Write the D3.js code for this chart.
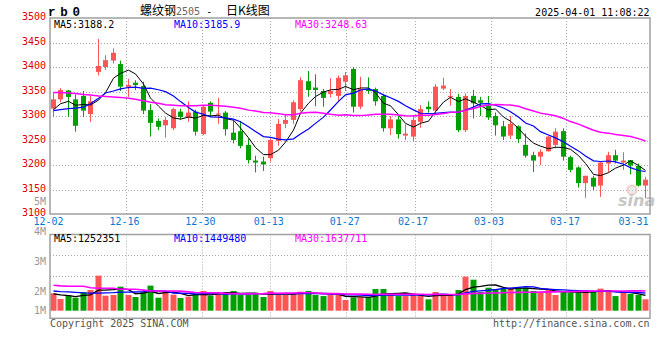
<!DOCTYPE html>
<html lang="zh">
<head>
<meta charset="UTF-8">
<title>螺纹钢2505 日K线图</title>
<style>
  body { margin: 0; padding: 0; background: #fff; }
  svg text { font-family: "DejaVu Sans Mono", monospace; font-size: 10px; }
</style>
</head>
<body>
<svg width="660" height="360"></svg>
<script src="https://cdn.jsdelivr.net/npm/d3@7/dist/d3.min.js"></script>
<script>
// trading days, 2024-12-02 .. 2025-04-01
const dates = [
  "12-02","12-03","12-04","12-05","12-06","12-09","12-10","12-11","12-12","12-13",
  "12-16","12-17","12-18","12-19","12-20","12-23","12-24","12-25","12-26","12-27",
  "12-30","12-31","01-02","01-03","01-06","01-07","01-08","01-09","01-10","01-13",
  "01-14","01-15","01-16","01-17","01-20","01-21","01-22","01-23","01-24","01-27",
  "02-05","02-06","02-07","02-10","02-11","02-12","02-13","02-14","02-17","02-18",
  "02-19","02-20","02-21","02-24","02-25","02-26","02-27","02-28","03-03","03-04",
  "03-05","03-06","03-07","03-10","03-11","03-12","03-13","03-14","03-17","03-18",
  "03-19","03-20","03-21","03-24","03-25","03-26","03-27","03-28","03-31","04-01"
];
const open = [
  3315,3334,3352,3334,3341,3304,3390,3400,3413,3406,
  3359,3368,3361,3312,3290,3281,3275,3309,3298,3309,
  3263,3327,3303,3307,3266,3269,3241,3209,3207,3214,
  3249,3284,3292,3314,3371,3358,3351,3345,3341,3370,
  3396,3319,3355,3355,3341,3275,3293,3260,3258,3288,
  3319,3311,3356,3339,3339,3271,3341,3332,3321,3300,
  3279,3260,3279,3241,3220,3217,3228,3241,3269,3216,
  3195,3163,3174,3158,3203,3220,3205,3210,3198,3158
];
const high = [
  3348,3357,3353,3344,3351,3341,3457,3424,3438,3413,
  3376,3373,3370,3324,3295,3298,3317,3315,3330,3313,
  3322,3330,3337,3310,3290,3290,3254,3219,3217,3254,
  3294,3304,3332,3379,3392,3385,3355,3377,3383,3390,
  3400,3380,3379,3358,3345,3300,3300,3283,3302,3322,
  3330,3365,3378,3355,3345,3346,3353,3339,3341,3307,
  3290,3300,3281,3264,3227,3232,3259,3275,3275,3219,
  3197,3178,3178,3207,3227,3231,3226,3210,3203,3176
];
const low = [
  3298,3328,3298,3268,3298,3288,3383,3394,3407,3351,
  3339,3353,3304,3258,3271,3256,3271,3293,3288,3260,
  3261,3298,3284,3260,3244,3234,3203,3185,3188,3207,
  3239,3275,3284,3309,3339,3320,3319,3338,3328,3351,
  3307,3314,3345,3321,3268,3261,3254,3251,3248,3276,
  3307,3302,3353,3321,3267,3267,3295,3300,3292,3260,
  3251,3253,3245,3215,3186,3200,3227,3234,3209,3185,
  3154,3133,3149,3135,3185,3203,3190,3181,3156,3132
];
const close = [
  3334,3353,3339,3280,3311,3330,3402,3414,3429,3360,
  3363,3363,3311,3286,3278,3292,3314,3298,3307,3268,
  3319,3309,3305,3273,3251,3239,3210,3205,3201,3251,
  3284,3292,3328,3373,3353,3353,3337,3351,3378,3383,
  3319,3355,3351,3330,3275,3293,3263,3264,3292,3314,
  3314,3360,3362,3341,3271,3341,3326,3327,3297,3281,
  3258,3284,3253,3219,3209,3227,3258,3268,3217,3190,
  3163,3178,3156,3205,3220,3209,3209,3199,3158,3170
];
const volume = [
  1440000, 970000,1277000,1075000,1546000,1709000,2899000,1238000,1296000,1987000,
  1296000,1133000,1546000,2074000,1075000,1632000,1325000,1046000,1162000,1440000,
  1632000,1238000,1459000,1546000,1632000,1296000,1296000,1459000,1133000,1632000,
  1296000,1296000,1459000,1574000,1632000,1296000,1210000,1296000,1296000, 883000,
  1104000,1104000,1104000,1795000,1795000,1296000,1210000,1210000,1382000,1210000,
   941000,1546000,1296000,1382000,1709000,2813000,2563000,1546000,1901000,1795000,
  1795000,1901000,1901000,1901000,1632000,1546000,1824000,1296000,1546000,1459000,
  1546000,1709000,1546000,1824000,1632000,1210000,1459000,1382000,1296000, 941000
];

// moving-average values before each window is full
const ma5Head = [3313, 3325, 3330, 3322];
const ma10Head = [3311, 3313, 3315, 3316, 3318, 3325, 3336, 3347, 3351];
const ma30Head = [
  3348,3348,3347,3346,3344,3343,3341,3340,3339,3338,
  3336,3334,3331,3328,3326,3323,3322,3321,3321,3321,
  3322,3322,3321,3320,3318,3316,3312,3310,3307
];
const vma5Head = [1400000, 1300000, 1240000, 1160000];
const vma10Head = [1630000, 1580000, 1560000, 1520000, 1480000, 1460000, 1460000, 1480000, 1500000];
const vma30Head = [
  2100000,2050000,2020000,2020000,2020000,1900000,1860000,1850000,1850000,1780000,
  1770000,1770000,1700000,1640000,1630000,1630000,1630000,1620000,1560000,1500000,
  1490000,1490000,1470000,1430000,1410000,1400000,1400000,1400000,1410000
];

const tickDates = ["12-02","12-16","12-30","01-13","01-27","02-17","03-03","03-17","03-31"];
const priceTicks = [3500, 3450, 3400, 3350, 3300, 3250, 3200, 3150, 3100];
const volTicks = [5, 4, 3, 2, 1];
const priceLegend = ["MA5:3188.2", "MA10:3185.9", "MA30:3248.63"];
const volLegend = ["MA5:1252351", "MA10:1449480", "MA30:1637711"];
const maColors = ["#000000", "#0000ff", "#ff00ff"];

const UP = "#ff5555", DOWN = "#00a000";
const box = {left: 50, right: 650, top: 18, bottom: 214};
const vbox = {top: 234.5, bottom: 318.3, base: 310.7};

const svg = d3.select("svg");
svg.append("rect").attr("width", 660).attr("height", 360).attr("fill", "#fff");

const x = d3.scaleBand().domain(dates).range([49, 649]);
const xc = d => Math.round(x(d) + x.bandwidth() / 2);
const xGrid = d3.scaleLinear().domain([0, dates.length - 1]).range([box.left, box.right]);
const y = d3.scaleLinear().domain([3100, 3500]).range([box.bottom, box.top]);
const yv = d3.scaleLinear().domain([0, 6.3e6]).range([vbox.base, vbox.top]);
// sina puts the volume labels on its own odd spacing
const yvLabel = d3.scaleLinear().domain([2, 5]).range([291, 201.5]);

function movingAvg(values, n, head) {
  return values.map((v, i) => i < n - 1 ? head[i] : d3.mean(values.slice(i - n + 1, i + 1)));
}
const priceMA = [movingAvg(close, 5, ma5Head), movingAvg(close, 10, ma10Head), movingAvg(close, 30, ma30Head)];
const volMA = [movingAvg(volume, 5, vma5Head), movingAvg(volume, 10, vma10Head), movingAvg(volume, 30, vma30Head)];

const gridColor = "#aaa";
const tickIdx = tickDates.map(d => dates.indexOf(d));

// ---- grid lines
const grid = svg.append("g").attr("stroke", gridColor).attr("stroke-dasharray", "1,2").attr("stroke-width", 1);
priceTicks.slice(1, -1).forEach(v => {
  const yy = Math.round(y(v)) + 0.5;
  grid.append("line").attr("x1", box.left).attr("x2", box.right).attr("y1", yy).attr("y2", yy);
});
[1, 2].forEach(k => {
  const yy = Math.round(vbox.top + k * (vbox.bottom - vbox.top) / 4) + 0.5;
  grid.append("line").attr("x1", box.left).attr("x2", box.right).attr("y1", yy).attr("y2", yy);
});
tickIdx.slice(1, -1).forEach(i => {
  const xx = Math.round(xGrid(i)) + 0.5;
  grid.append("line").attr("x1", xx).attr("x2", xx).attr("y1", box.top).attr("y2", box.bottom);
  grid.append("line").attr("x1", xx).attr("x2", xx).attr("y1", vbox.top).attr("y2", vbox.bottom);
});

// ---- sina watermark
const wm = svg.append("g").attr("opacity", 0.55);
wm.append("circle").attr("cx", 632).attr("cy", 190).attr("r", 4.5)
  .attr("fill", "#ddd").attr("stroke", "#e7a9a9").attr("stroke-width", 2);
wm.append("text").attr("x", 618).attr("y", 206)
  .style("font-family", "'DejaVu Sans', sans-serif").style("font-size", "16px")
  .style("font-style", "italic").style("font-weight", "bold")
  .attr("fill", "#999").text("sina");

// ---- candles
svg.append("clipPath").attr("id", "pclip").append("rect")
  .attr("x", box.left).attr("y", box.top).attr("width", box.right - box.left).attr("height", box.bottom - box.top);
const candles = svg.append("g").attr("clip-path", "url(#pclip)")
  .selectAll("g").data(dates).join("g")
  .attr("fill", (d, i) => close[i] >= open[i] ? UP : DOWN)
  .attr("stroke", (d, i) => close[i] >= open[i] ? UP : DOWN);
candles.append("line")
  .attr("x1", d => xc(d) + 0.5).attr("x2", d => xc(d) + 0.5)
  .attr("y1", (d, i) => y(high[i])).attr("y2", (d, i) => y(low[i]));
candles.append("rect")
  .attr("stroke", "none")
  .attr("x", d => xc(d) - 2).attr("width", 5)
  .attr("y", (d, i) => y(Math.max(open[i], close[i])))
  .attr("height", (d, i) => Math.max(1, Math.abs(y(open[i]) - y(close[i]))));

// ---- price MA lines
const maWidths = [1, 1.2, 1.5];
const pline = d3.line().x((v, i) => xc(dates[i]) + 0.5).y(v => y(v));
const maG = svg.append("g").attr("clip-path", "url(#pclip)").attr("fill", "none");
priceMA.forEach((s, k) => {
  maG.append("path").attr("d", pline(s)).attr("stroke", maColors[k]).attr("stroke-width", maWidths[k]);
});

// ---- volume bars
svg.append("g").selectAll("rect").data(dates).join("rect")
  .attr("x", d => xc(d) - 2.5).attr("width", 6)
  .attr("y", (d, i) => yv(volume[i]))
  .attr("height", (d, i) => yv(0) - yv(volume[i]))
  .attr("fill", (d, i) => close[i] >= open[i] ? UP : DOWN);

const vline = d3.line().x((v, i) => xc(dates[i]) + 0.5).y(v => yv(v));
const vmaG = svg.append("g").attr("fill", "none");
volMA.forEach((s, k) => {
  vmaG.append("path").attr("d", vline(s)).attr("stroke", maColors[k]).attr("stroke-width", k === 2 ? 1.6 : 1.3);
});

// ---- panel borders
[[box.top, box.bottom], [vbox.top, vbox.bottom]].forEach(([t, b]) => {
  svg.append("rect").attr("x", box.left).attr("y", t).attr("width", box.right - box.left).attr("height", b - t)
    .attr("fill", "none").attr("stroke", "#a0a0a0").attr("stroke-width", 1.5);
});

// ---- left axis labels
svg.append("g").selectAll("text").data(priceTicks).join("text")
  .attr("x", 46).attr("y", v => y(v) - 1.5).attr("dy", "0.35em")
  .attr("text-anchor", "end").attr("fill", "#e00000").text(v => v);
svg.append("g").selectAll("text").data(volTicks).join("text")
  .attr("x", 46).attr("y", v => Math.min(yvLabel(v), vbox.base)).attr("dy", "0.35em")
  .attr("text-anchor", "end").attr("fill", "#999").text(v => v + "M");

// ---- date labels
svg.append("g").selectAll("text").data(tickDates).join("text")
  .attr("x", (d, i) => Math.min(xGrid(tickIdx[i]) - 1.5, 633.5)).attr("y", 224.5)
  .attr("text-anchor", "middle").attr("fill", "#0a78d2").text(d => d);

// ---- legends
const legX = [54, 174, 295];
priceLegend.forEach((t, k) => svg.append("text").attr("x", legX[k]).attr("y", 27.5).attr("fill", maColors[k]).text(t));
volLegend.forEach((t, k) => svg.append("text").attr("x", legX[k]).attr("y", 241.8).attr("fill", maColors[k]).text(t));

// ---- header
svg.append("text").attr("x", 48).attr("y", 16)
  .style("font-family", "'Liberation Mono', monospace").style("font-size", "12.5px").style("font-weight", "bold")
  .style("letter-spacing", "-1.4px")
  .text("r b 0");
const title = svg.append("text").attr("x", 140).attr("y", 14.5);
title.append("tspan").style("font-family", "'Noto Sans CJK SC'").style("font-size", "12px").text("螺纹钢");
title.append("tspan").attr("fill", "#666").text("2505");
title.append("tspan").attr("xml:space", "preserve").text(" - ");
title.append("tspan").attr("x", 226).style("font-family", "'Noto Sans CJK SC'").style("font-size", "12px").text("日K线图");
svg.append("text").attr("x", 649.5).attr("y", 15.5).attr("text-anchor", "end").text("2025-04-01 11:08:22");

// ---- footer
svg.append("text").attr("x", 50).attr("y", 327).attr("fill", "#555").text("Copyright 2025 SINA.COM");
svg.append("text").attr("x", 649.5).attr("y", 327).attr("text-anchor", "end").attr("fill", "#555").text("http://finance.sina.com.cn");
</script>
</body>
</html>
